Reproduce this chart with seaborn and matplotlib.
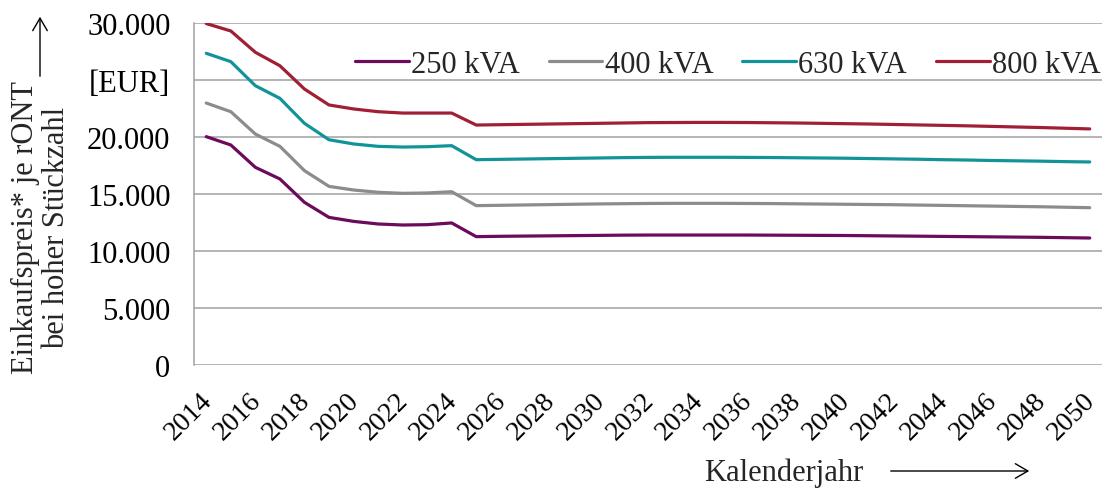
import matplotlib
matplotlib.use("Agg")
import matplotlib.pyplot as plt
import matplotlib.transforms as mtransforms
import seaborn as sns
import pandas as pd

# data
years = list(range(2014, 2051))
kva_250 = [20030, 19300, 17340, 16320, 14270, 12950, 12600, 12370, 12280, 12310, 12460,
           11260, 11290, 11310, 11330, 11350, 11370, 11390, 11400, 11400, 11400, 11400, 11400,
           11390, 11380, 11370, 11360, 11340, 11320, 11300, 11280, 11260, 11240, 11220, 11200, 11170, 11140]
kva_400 = [22980, 22220, 20260, 19180, 17050, 15670, 15350, 15150, 15060, 15090, 15200,
           13980, 14010, 14040, 14070, 14100, 14130, 14150, 14170, 14180, 14180, 14180, 14170,
           14160, 14140, 14120, 14100, 14080, 14060, 14030, 14000, 13970, 13940, 13910, 13880, 13840, 13800]
kva_630 = [27340, 26610, 24500, 23390, 21200, 19760, 19390, 19180, 19120, 19150, 19240,
           18010, 18040, 18070, 18100, 18130, 18160, 18190, 18210, 18220, 18220, 18220, 18210,
           18200, 18180, 18160, 18140, 18110, 18080, 18050, 18010, 17980, 17940, 17910, 17880, 17840, 17810]
kva_800 = [29950, 29300, 27430, 26250, 24210, 22810, 22460, 22220, 22100, 22100, 22100,
           21050, 21080, 21110, 21140, 21170, 21200, 21230, 21260, 21270, 21280, 21280, 21270,
           21250, 21230, 21200, 21170, 21140, 21100, 21060, 21020, 20980, 20930, 20880, 20830, 20770, 20710]
series_names = ["250 kVA", "400 kVA", "630 kVA", "800 kVA"]
colors = ["#6C0A5C", "#8B8C90", "#12939A", "#A01F35"]
ytick_vals = [0, 5000, 10000, 15000, 20000, 25000, 30000]
ytick_labels = ["0", "5.000", "10.000", "15.000", "20.000", "[EUR]", "30.000"]

rows = []
for name, vals in zip(series_names, [kva_250, kva_400, kva_630, kva_800]):
    for y, v in zip(years, vals):
        rows.append({"Jahr": y, "Preis": v, "Typ": name})
df = pd.DataFrame(rows)

sns.set_style("white")
plt.rcParams["font.family"] = ["Liberation Serif", "DejaVu Serif"]
FS = 22

fig = plt.figure(figsize=(11.1, 4.89), dpi=100)
ax = fig.add_axes([194 / 1110, 1 - 366 / 489, 908 / 1110, 342 / 489])

sns.lineplot(data=df, x="Jahr", y="Preis", hue="Typ", palette=colors,
             linewidth=2.3, ax=ax)

ax.set_xlim(2013.5, 2050.5)
ax.set_ylim(0, 30000)
ax.set_yticks(ytick_vals)
ax.set_yticklabels(ytick_labels)
ax.set_xticks(years[::2])
ax.set_xticklabels([str(y) for y in years[::2]], rotation=45, ha="right",
                   rotation_mode="anchor")
ax.tick_params(axis="both", length=0, labelsize=FS, colors="black")
ax.tick_params(axis="x", pad=16, labelsize=20)
ax.tick_params(axis="y", pad=17)
# nudge the rotated year labels a little to the left
shift = mtransforms.ScaledTranslation(-7 / 100, 0, fig.dpi_scale_trans)
for lab in ax.get_xticklabels():
    lab.set_transform(lab.get_transform() + shift)
ax.yaxis.grid(True, color="#A0A0A0", linewidth=1.1)
ax.set_axisbelow(True)
for s in ["top", "right", "bottom"]:
    ax.spines[s].set_visible(False)
ax.spines["left"].set_color("#A0A0A0")
ax.spines["left"].set_linewidth(1.1)
ax.set_xlabel("")
ax.set_ylabel("")

ax.legend(loc="center", bbox_to_anchor=(0.588, 0.88), ncol=4, frameon=False,
          fontsize=FS, handlelength=1.75, handletextpad=0.08, columnspacing=0.95)
for line in ax.get_legend().get_lines():
    line.set_linewidth(2.3)

# axis titles with arrows
fig.text(41 / 1110, 1 - 228 / 489, "Einkaufspreis* je rONT\nbei hoher Stückzahl",
         rotation=90, ha="center", va="center", fontsize=FS, linespacing=1.05)
fig.add_artist(matplotlib.patches.FancyArrowPatch(
    (40 / 1110, 1 - 80 / 489), (40 / 1110, 1 - 15 / 489), transform=fig.transFigure,
    arrowstyle="->,head_length=0.6,head_width=0.35", color="black", linewidth=1.0,
    mutation_scale=15))
fig.text(784 / 1110, 1 - 473 / 489, "Kalenderjahr", ha="center", va="center", fontsize=FS)
fig.add_artist(matplotlib.patches.FancyArrowPatch(
    (888 / 1110, 1 - 472 / 489), (1032 / 1110, 1 - 472 / 489), transform=fig.transFigure,
    arrowstyle="->,head_length=0.6,head_width=0.35", color="black", linewidth=1.0,
    mutation_scale=15))

fig.savefig("out.png", dpi=100)
